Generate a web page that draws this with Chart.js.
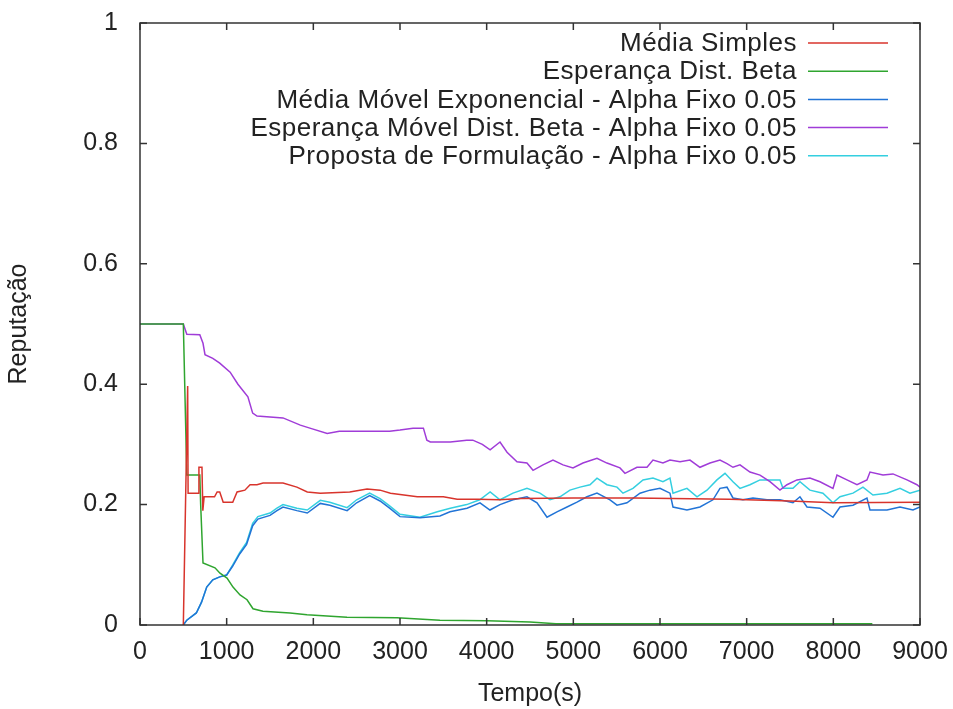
<!DOCTYPE html>
<html>
<head>
<meta charset="utf-8">
<script src="https://cdn.jsdelivr.net/npm/chart.js@4.4.0/dist/chart.umd.min.js"></script>
<style>
  html, body { margin: 0; padding: 0; background: #fff; }
  #wrap { width: 953px; height: 709px; }
</style>
</head>
<body>
<div id="wrap"><canvas id="chart"></canvas></div>
<script>
// series as [tempo(s), reputação]
const mediaSimples = [
  [500, 0], [550, 0.397], [555, 0.219], [670, 0.219], [680, 0.262], [715, 0.262],
  [725, 0.19], [740, 0.213], [860, 0.213], [890, 0.221], [920, 0.221], [960, 0.204],
  [1070, 0.204], [1120, 0.221], [1210, 0.224], [1270, 0.233], [1350, 0.233],
  [1420, 0.236], [1650, 0.236], [1810, 0.229], [1930, 0.221], [2080, 0.219],
  [2420, 0.221], [2620, 0.226], [2770, 0.224], [2890, 0.219], [3200, 0.213],
  [3500, 0.213], [3660, 0.209], [3900, 0.209], [4150, 0.208], [4400, 0.21],
  [5000, 0.211], [5700, 0.211], [6800, 0.209], [7500, 0.206], [8000, 0.203],
  [9000, 0.204]
];

const esperancaBeta = [
  [0, 0.5], [500, 0.5], [540, 0.249], [690, 0.249], [700, 0.2], [727, 0.103],
  [865, 0.095], [923, 0.086], [1004, 0.078], [1073, 0.063], [1154, 0.05],
  [1235, 0.042], [1304, 0.027], [1419, 0.023], [1731, 0.02], [1927, 0.017],
  [2388, 0.013], [2965, 0.012], [3461, 0.008], [4004, 0.007], [4500, 0.005],
  [4800, 0.002], [8450, 0.002]
];

const mediaMovelExp = [
  [500, 0], [540, 0.008], [650, 0.02], [710, 0.038], [770, 0.063], [840, 0.075],
  [920, 0.08], [1000, 0.083], [1070, 0.098], [1150, 0.118], [1230, 0.134],
  [1300, 0.165], [1360, 0.176], [1500, 0.182], [1580, 0.19], [1650, 0.196],
  [1810, 0.19], [1930, 0.186], [2080, 0.202], [2190, 0.199], [2390, 0.19],
  [2500, 0.203], [2650, 0.215], [2770, 0.206], [2880, 0.194], [3000, 0.18],
  [3231, 0.178], [3461, 0.181], [3577, 0.188], [3773, 0.194], [3923, 0.203],
  [4038, 0.191], [4154, 0.2], [4304, 0.208], [4465, 0.213], [4581, 0.203],
  [4696, 0.179], [4811, 0.188], [4927, 0.196], [5042, 0.204], [5157, 0.213],
  [5273, 0.219], [5423, 0.208], [5504, 0.199], [5619, 0.203], [5769, 0.219],
  [5884, 0.224], [6000, 0.227], [6115, 0.219], [6150, 0.196], [6311, 0.191],
  [6461, 0.196], [6611, 0.208], [6692, 0.227], [6773, 0.229], [6842, 0.211],
  [6957, 0.208], [7073, 0.211], [7234, 0.208], [7384, 0.208], [7534, 0.203],
  [7615, 0.213], [7696, 0.196], [7846, 0.194], [7996, 0.179], [8077, 0.196],
  [8227, 0.199], [8388, 0.211], [8423, 0.191], [8619, 0.191], [8769, 0.196],
  [8919, 0.191], [9000, 0.196]
];

const esperancaMovelBeta = [
  [0, 0.5], [500, 0.5], [540, 0.483], [690, 0.482], [727, 0.468], [750, 0.449],
  [840, 0.443], [920, 0.435], [1040, 0.42], [1130, 0.4], [1245, 0.379],
  [1300, 0.352], [1350, 0.347], [1650, 0.344], [1850, 0.332], [1960, 0.327],
  [2160, 0.318], [2300, 0.322], [2650, 0.322], [2880, 0.322], [3000, 0.324],
  [3150, 0.327], [3270, 0.327], [3310, 0.307], [3350, 0.304], [3580, 0.304],
  [3770, 0.307], [3840, 0.307], [3950, 0.3], [4040, 0.291], [4154, 0.304],
  [4235, 0.287], [4350, 0.271], [4465, 0.269], [4535, 0.257], [4650, 0.266],
  [4765, 0.274], [4881, 0.266], [4996, 0.261], [5111, 0.269], [5273, 0.277],
  [5388, 0.269], [5538, 0.261], [5596, 0.252], [5734, 0.262], [5850, 0.262],
  [5919, 0.274], [6034, 0.269], [6115, 0.274], [6231, 0.271], [6346, 0.274],
  [6461, 0.262], [6577, 0.269], [6692, 0.274], [6773, 0.268], [6842, 0.262],
  [6923, 0.266], [7038, 0.254], [7154, 0.249], [7269, 0.238], [7384, 0.224],
  [7465, 0.233], [7580, 0.241], [7730, 0.244], [7846, 0.238], [7996, 0.227],
  [8042, 0.249], [8157, 0.241], [8273, 0.233], [8388, 0.241], [8423, 0.254],
  [8573, 0.249], [8688, 0.251], [8850, 0.241], [8965, 0.233], [9000, 0.229]
];

const propostaFormulacao = [
  [500, 0], [540, 0.008], [650, 0.02], [710, 0.038], [770, 0.063], [840, 0.075],
  [920, 0.08], [1000, 0.083], [1070, 0.1], [1150, 0.12], [1230, 0.137],
  [1300, 0.169], [1360, 0.18], [1500, 0.186], [1580, 0.194], [1650, 0.2],
  [1810, 0.194], [1930, 0.191], [2080, 0.207], [2190, 0.204], [2390, 0.195],
  [2500, 0.208], [2650, 0.219], [2770, 0.21], [2880, 0.198], [3000, 0.184],
  [3230, 0.179], [3430, 0.188], [3580, 0.194], [3770, 0.2], [3920, 0.208],
  [4040, 0.221], [4154, 0.208], [4304, 0.219], [4465, 0.227], [4615, 0.219],
  [4731, 0.208], [4846, 0.213], [4961, 0.224], [5077, 0.229], [5192, 0.233],
  [5273, 0.244], [5388, 0.233], [5504, 0.229], [5573, 0.219], [5688, 0.227],
  [5804, 0.241], [5919, 0.244], [6034, 0.238], [6115, 0.244], [6150, 0.219],
  [6311, 0.227], [6427, 0.213], [6542, 0.224], [6657, 0.241], [6750, 0.252],
  [6842, 0.238], [6923, 0.227], [7038, 0.233], [7154, 0.241], [7384, 0.241],
  [7419, 0.227], [7534, 0.227], [7615, 0.238], [7730, 0.224], [7880, 0.219],
  [7996, 0.203], [8077, 0.213], [8227, 0.219], [8342, 0.229], [8457, 0.216],
  [8619, 0.219], [8769, 0.227], [8884, 0.219], [9000, 0.224]
];

const seriesLabels = [
  'Média Simples',
  'Esperança Dist. Beta',
  'Média Móvel Exponencial - Alpha Fixo 0.05',
  'Esperança Móvel Dist. Beta - Alpha Fixo 0.05',
  'Proposta de Formulação - Alpha Fixo 0.05'
];
const seriesData = [mediaSimples, esperancaBeta, mediaMovelExp, esperancaMovelBeta, propostaFormulacao];
const seriesColors = ['#d8342c', '#2fa52f', '#2274d6', '#a03cd8', '#34cfe0'];

const FONT = 'Liberation Sans';
const TEXT = '#222';

function toPoints(arr) {
  return arr.map(p => ({ x: p[0], y: p[1] }));
}

// gnuplot style frame: box round the plot with ticks pointing inward on all sides
const framePlugin = {
  id: 'frame',
  afterDatasetsDraw(chart) {
    const ctx = chart.ctx;
    const a = chart.chartArea;
    const xs = chart.scales.x, ys = chart.scales.y;
    const tl = 7;
    ctx.save();
    ctx.strokeStyle = '#333';
    ctx.lineWidth = 1.5;
    ctx.beginPath();
    xs.ticks.forEach(t => {
      const px = xs.getPixelForValue(t.value);
      ctx.moveTo(px, a.bottom); ctx.lineTo(px, a.bottom - tl);
      ctx.moveTo(px, a.top); ctx.lineTo(px, a.top + tl);
    });
    ys.ticks.forEach(t => {
      const py = ys.getPixelForValue(t.value);
      ctx.moveTo(a.left, py); ctx.lineTo(a.left + tl, py);
      ctx.moveTo(a.right, py); ctx.lineTo(a.right - tl, py);
    });
    ctx.stroke();
    ctx.strokeRect(a.left, a.top, a.right - a.left, a.bottom - a.top);
    ctx.restore();
  }
};

// legend in the top right corner: text right aligned, line sample after it
const legendPlugin = {
  id: 'keyBox',
  afterDraw(chart) {
    const ctx = chart.ctx;
    const a = chart.chartArea;
    const textRight = a.right - 123;
    const lineStart = a.right - 112;
    const lineEnd = a.right - 32;
    ctx.save();
    ctx.font = '26px "' + FONT + '"';
    ctx.letterSpacing = '0.5px';
    ctx.textAlign = 'right';
    ctx.textBaseline = 'middle';
    chart.data.datasets.forEach((ds, i) => {
      const y = a.top + 20 + i * 28.2;
      ctx.fillStyle = TEXT;
      ctx.fillText(ds.label, textRight, y + 1);
      ctx.strokeStyle = ds.borderColor;
      ctx.lineWidth = 1.5;
      ctx.beginPath();
      ctx.moveTo(lineStart, y);
      ctx.lineTo(lineEnd, y);
      ctx.stroke();
    });
    ctx.restore();
  }
};

// invisible outer tick marks give the label gap without inflating the chart padding
const hiddenTicks = len => ({
  display: true,
  drawOnChartArea: false,
  drawTicks: true,
  tickLength: len,
  color: 'rgba(0,0,0,0)'
});

new Chart(document.getElementById('chart'), {
  type: 'line',
  data: {
    datasets: seriesData.map((d, i) => ({
      label: seriesLabels[i],
      data: toPoints(d),
      borderColor: seriesColors[i],
      backgroundColor: seriesColors[i],
      borderWidth: 1.5,
      pointRadius: 0,
      tension: 0,
      fill: false
    }))
  },
  options: {
    responsive: true,
    maintainAspectRatio: false,
    animation: false,
    layout: { padding: { left: 0, right: 33, top: 23, bottom: 0 } },
    plugins: {
      legend: { display: false },
      tooltip: { enabled: false }
    },
    scales: {
      x: {
        type: 'linear',
        min: 0,
        max: 9000,
        grid: hiddenTicks(12),
        border: { display: false },
        ticks: {
          stepSize: 1000,
          padding: 0,
          color: TEXT,
          font: { family: FONT, size: 25 },
          maxRotation: 0,
          callback: v => String(v)
        },
        title: {
          display: true,
          text: 'Tempo(s)',
          color: TEXT,
          font: { family: FONT, size: 25 },
          padding: { top: 4, bottom: 0 }
        },
        afterFit: s => { s.height = 84; }
      },
      y: {
        type: 'linear',
        min: 0,
        max: 1,
        grid: hiddenTicks(21),
        border: { display: false },
        ticks: {
          stepSize: 0.2,
          padding: 1,
          color: TEXT,
          font: { family: FONT, size: 25 },
          callback: v => String(Math.round(v * 10) / 10)
        },
        title: {
          display: true,
          text: 'Reputação',
          color: TEXT,
          font: { family: FONT, size: 25 },
          padding: { top: 4, bottom: 4 }
        },
        afterFit: s => { s.width = 140; }
      }
    }
  },
  plugins: [framePlugin, legendPlugin]
});
</script>
</body>
</html>
